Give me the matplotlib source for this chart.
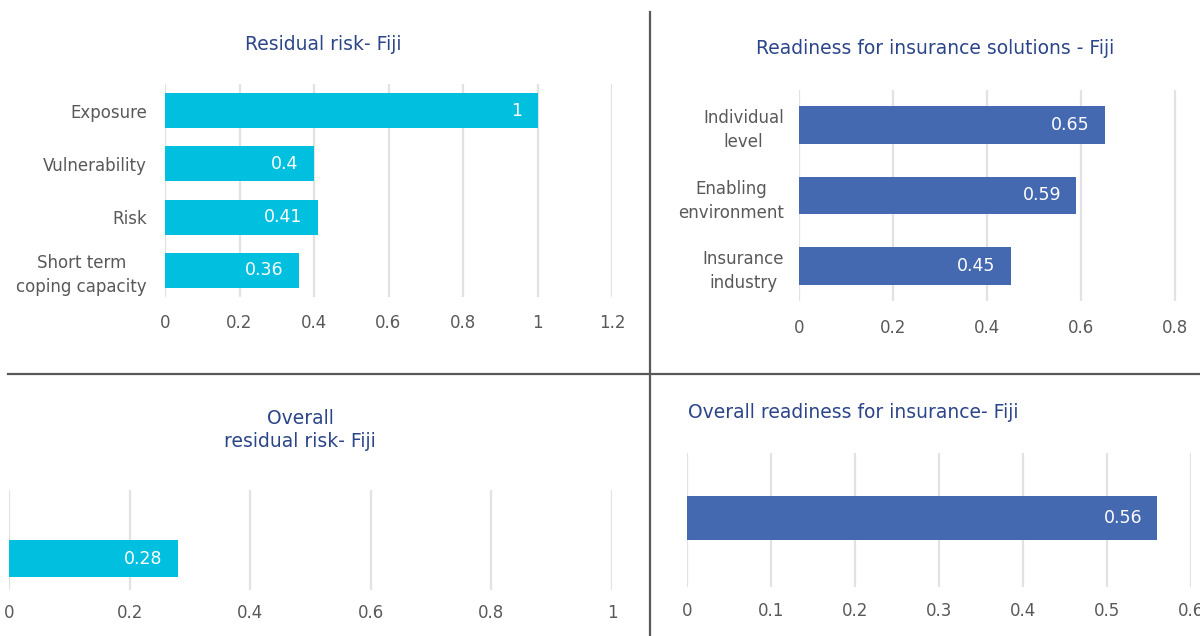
import matplotlib
matplotlib.use('Agg')
import matplotlib.pyplot as plt
from matplotlib.lines import Line2D

# residual risk components
risk_labels = ['Exposure', 'Vulnerability', 'Risk', 'Short term\ncoping capacity']
risk_values = [1, 0.4, 0.41, 0.36]

# readiness components
ready_labels = ['Individual\nlevel', 'Enabling\nenvironment', 'Insurance\nindustry']
ready_values = [0.65, 0.59, 0.45]

overall_risk = 0.28
overall_ready = 0.56

CYAN = '#00BFDF'
BLUE = '#4469B1'
TITLE = '#2B4589'
TEXT = '#595959'
GRID = '#E2E2E2'

W, H = 1200, 636
fig = plt.figure(figsize=(W / 100, H / 100), dpi=100)
plt.rcParams['font.family'] = ['DejaVu Sans']


def box(left, top, right, bottom):
    return [left / W, 1 - bottom / H, (right - left) / W, (bottom - top) / H]


def style(ax, xmax, ticks, pad):
    ax.set_xlim(0, xmax)
    ax.set_xticks(ticks)
    ax.set_xticklabels([f'{t:g}' for t in ticks])
    ax.grid(axis='x', color=GRID, linewidth=1.6)
    ax.set_axisbelow(True)
    for s in ax.spines.values():
        s.set_visible(False)
    ax.tick_params(length=0, colors=TEXT, labelsize=12)
    ax.tick_params(axis='x', pad=pad)


def label_bars(ax, bars, values):
    for b, v in zip(bars, values):
        ax.annotate(f'{v:g}', (b.get_width(), b.get_y() + b.get_height() / 2),
                    xytext=(-11, 0), textcoords='offset points',
                    ha='right', va='center', color='white', fontsize=12.5)


# top left: residual risk
ax1 = fig.add_axes(box(165, 84, 612, 297))
bars = ax1.barh(range(len(risk_values)), risk_values, height=0.66, color=CYAN)
ax1.set_yticks(range(len(risk_labels)))
ax1.set_yticklabels(risk_labels, multialignment='center', linespacing=1.4)
ax1.set_ylim(len(risk_values) - 0.5, -0.5)
style(ax1, 1.2, [0, 0.2, 0.4, 0.6, 0.8, 1, 1.2], 12)
ax1.tick_params(axis='y', pad=13)
label_bars(ax1, bars, risk_values)

# top right: readiness
ax2 = fig.add_axes(box(799, 90, 1198.5, 301))
bars = ax2.barh(range(len(ready_values)), ready_values, height=0.54, color=BLUE)
ax2.set_yticks(range(len(ready_labels)))
ax2.set_yticklabels(ready_labels, multialignment='center', linespacing=1.45)
ax2.set_ylim(len(ready_values) - 0.5, -0.5)
style(ax2, 0.85, [0, 0.2, 0.4, 0.6, 0.8], 13)
ax2.tick_params(axis='y', pad=11)
label_bars(ax2, bars, ready_values)

# bottom left: overall residual risk
ax3 = fig.add_axes(box(9, 490, 612, 590))
bars = ax3.barh([0], [overall_risk], height=0.37, color=CYAN)
ax3.set_ylim(-0.315, 0.685)
ax3.set_yticks([])
style(ax3, 1.0, [0, 0.2, 0.4, 0.6, 0.8, 1], 10)
label_bars(ax3, bars, [overall_risk])

# bottom right: overall readiness
ax4 = fig.add_axes(box(687, 453, 1191, 587))
bars = ax4.barh([0], [overall_ready], height=0.33, color=BLUE)
ax4.set_ylim(-0.515, 0.485)
ax4.set_yticks([])
style(ax4, 0.6, [0, 0.1, 0.2, 0.3, 0.4, 0.5, 0.6], 11)
label_bars(ax4, bars, [overall_ready])

# panel titles
fig.text(323 / W, 1 - 45 / H, 'Residual risk- Fiji', ha='center', va='center',
         color=TITLE, fontsize=13.5)
fig.text(935 / W, 1 - 48 / H, 'Readiness for insurance solutions - Fiji',
         ha='center', va='center', color=TITLE, fontsize=13.5)
fig.text(300 / W, 1 - 430 / H, 'Overall\nresidual risk- Fiji', ha='center',
         va='center', color=TITLE, fontsize=13.5, linespacing=1.3)
fig.text(853 / W, 1 - 413 / H, 'Overall readiness for insurance- Fiji',
         ha='center', va='center', color=TITLE, fontsize=13.5)

# dividers between panels
fig.add_artist(Line2D([650 / W, 650 / W], [0, 1 - 12 / H], color='#595959', linewidth=1.6))
fig.add_artist(Line2D([8 / W, 1], [1 - 374 / H, 1 - 374 / H], color='#595959', linewidth=1.6))

fig.savefig('out.png', dpi=100)
